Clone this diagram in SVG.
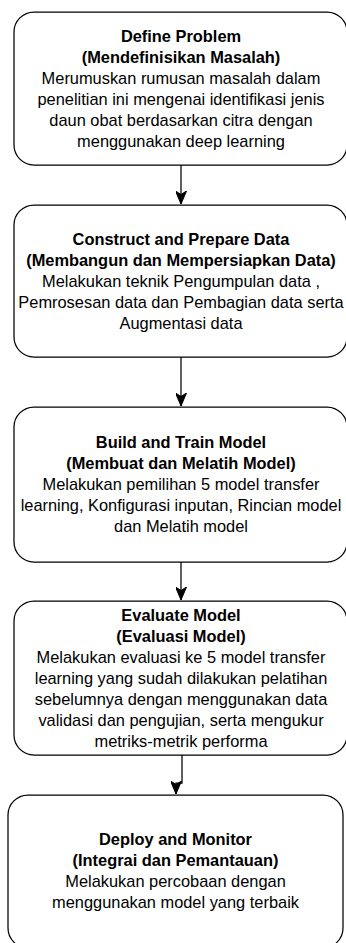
<svg xmlns="http://www.w3.org/2000/svg" width="346" height="943" viewBox="0 0 346 943">
<style>
  .box { fill: #ffffff; stroke: #000000; stroke-width: 1.25; }
  .t { font-family: "Liberation Sans", Arial, sans-serif; font-size: 16.4px; fill: #000000; text-anchor: middle; }
  .b { font-weight: bold; }
  .edge { fill: none; stroke: #000000; stroke-width: 1.25; }
</style>
<defs>
  <marker id="arr" markerUnits="userSpaceOnUse" markerWidth="13" markerHeight="11" viewBox="0 0 13 11" refX="13" refY="5.5" orient="auto">
    <path d="M13,5.5 L0,0 L3.5,5.5 L0,11 Z" fill="#000000" stroke="#000000" stroke-width="1"/>
  </marker>
</defs>
<rect width="346" height="943" fill="#ffffff"/>

<g id="connectors">
  <path class="edge" d="M181,165 V204" marker-end="url(#arr)"/>
  <path class="edge" d="M181,357 V406" marker-end="url(#arr)"/>
  <path class="edge" d="M181,562 V600" marker-end="url(#arr)"/>
  <path class="edge" d="M182,755 V783 H176 V794" marker-end="url(#arr)"/>
</g>

<g id="define-problem">
  <rect class="box" x="14" y="12" width="333" height="153" rx="20" ry="20"/>
  <text class="t b" x="181" y="42">Define Problem</text>
  <text class="t b" x="181" y="63">(Mendefinisikan Masalah)</text>
  <text class="t" x="181" y="84">Merumuskan rumusan masalah dalam</text>
  <text class="t" x="181" y="105">penelitian ini mengenai identifikasi jenis</text>
  <text class="t" x="181" y="126">daun obat berdasarkan citra dengan</text>
  <text class="t" x="181" y="147">menggunakan deep learning</text>
</g>

<g id="construct-data">
  <rect class="box" x="14" y="205" width="333" height="152" rx="20" ry="20"/>
  <text class="t b" x="181" y="245">Construct and Prepare Data</text>
  <text class="t b" x="181" y="266">(Membangun dan Mempersiapkan Data)</text>
  <text class="t" x="181" y="287">Melakukan teknik Pengumpulan data ,</text>
  <text class="t" x="181" y="308">Pemrosesan data dan Pembagian data serta</text>
  <text class="t" x="181" y="329">Augmentasi data</text>
</g>

<g id="build-train">
  <rect class="box" x="14" y="407" width="333" height="155" rx="20" ry="20"/>
  <text class="t b" x="181" y="448">Build and Train Model</text>
  <text class="t b" x="181" y="469">(Membuat dan Melatih Model)</text>
  <text class="t" x="181" y="490">Melakukan pemilihan 5 model transfer</text>
  <text class="t" x="181" y="511">learning, Konfigurasi inputan, Rincian model</text>
  <text class="t" x="181" y="532">dan Melatih model</text>
</g>

<g id="evaluate">
  <rect class="box" x="14" y="601" width="333" height="154" rx="20" ry="20"/>
  <text class="t b" x="181" y="621">Evaluate Model</text>
  <text class="t b" x="181" y="642">(Evaluasi Model)</text>
  <text class="t" x="181" y="663">Melakukan evaluasi ke 5 model transfer</text>
  <text class="t" x="181" y="684">learning yang sudah dilakukan pelatihan</text>
  <text class="t" x="181" y="705">sebelumnya dengan menggunakan data</text>
  <text class="t" x="181" y="726">validasi dan pengujian, serta mengukur</text>
  <text class="t" x="181" y="747">metriks-metrik performa</text>
</g>

<g id="deploy">
  <rect class="box" x="8" y="795" width="335" height="153" rx="20" ry="20"/>
  <text class="t b" x="175.5" y="845">Deploy and Monitor</text>
  <text class="t b" x="175.5" y="866">(Integrai dan Pemantauan)</text>
  <text class="t" x="175.5" y="887">Melakukan percobaan dengan</text>
  <text class="t" x="175.5" y="908">menggunakan model yang terbaik</text>
</g>
</svg>
